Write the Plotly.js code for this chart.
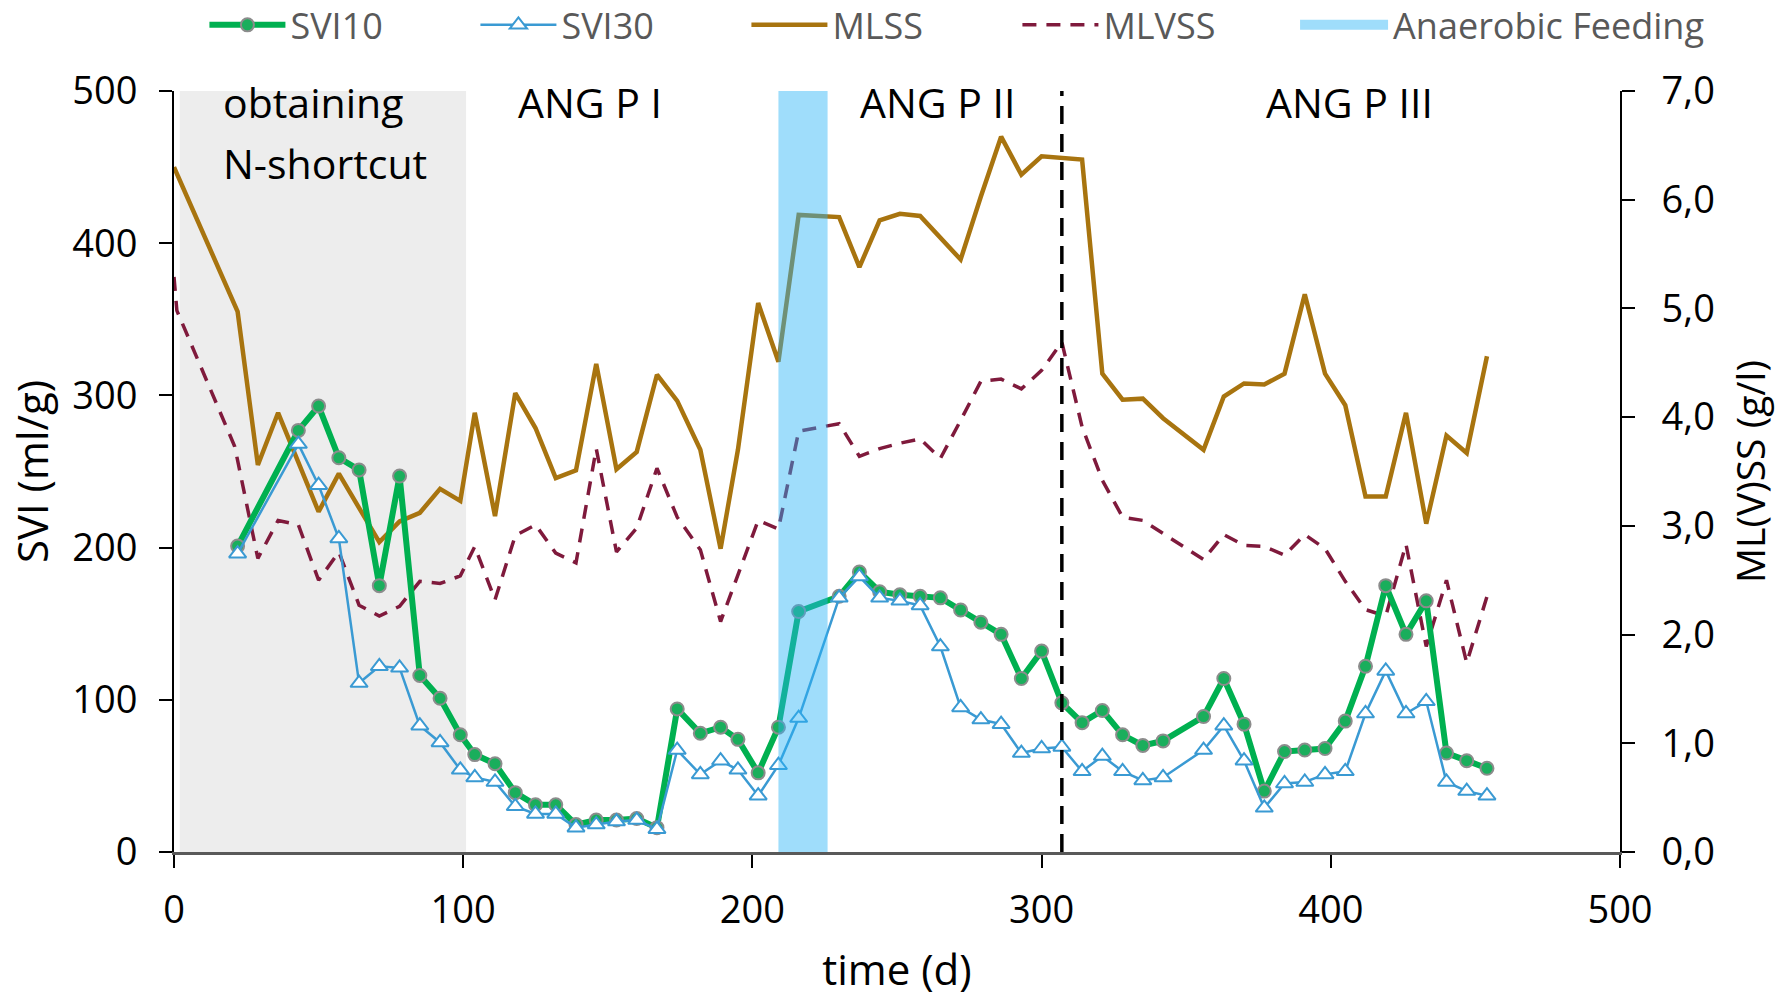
<!DOCTYPE html>
<html>
<head>
<meta charset="utf-8">
<script src="https://cdn.plot.ly/plotly-3.0.1.min.js"></script>
<style>html,body{margin:0;padding:0;background:#fff;}#chart{width:1790px;height:997px;}</style>
</head>
<body>
<div id="chart"></div>
<script>
// ---- data ----
var sviDays = [22,43,50,57,64,71,78,85,92,99,104,111,118,125,132,139,146,153,160,167,174,182,189,195,202,209,216,230,237,244,251,258,265,272,279,286,293,300,307,314,321,328,335,342,356,363,370,377,384,391,398,405,412,419,426,433,440,447,454];
var svi10 = [201,277,293,259,251,175,247,116,101,77,64,58,39,31,31,18,21,21,22,16,94,78,82,74,52,82,158,168,184,171,169,168,167,159,151,143,114,132,98,85,93,77,70,73,89,114,84,40,66,67,68,86,122,175,143,165,65,60,55];
var svi30 = [196,268,241,206,111,122,121,83,72,54,49,46,30,25,25,16,18,20,21,15,67,51,60,54,37,57,88,167,181,167,165,162,135,95,87,84,65,68,69,53,63,53,47,49,67,83,60,29,45,46,51,53,91,119,91,99,46,40,37];

var mlssDays = [0,22,29,36,50,57,71,78,85,92,99,104,111,118,125,132,139,146,153,160,167,174,182,189,195,202,209,216,230,237,244,251,258,272,279,286,293,300,314,321,328,335,342,356,363,370,377,384,391,398,405,412,419,426,433,440,447,454];
var mlss = [6.30,4.97,3.56,4.04,3.13,3.48,2.85,3.04,3.12,3.34,3.23,4.04,3.09,4.22,3.90,3.44,3.51,4.49,3.52,3.68,4.39,4.15,3.70,2.79,3.70,5.05,4.51,5.86,5.84,5.38,5.81,5.87,5.85,5.45,6.03,6.58,6.23,6.40,6.37,4.40,4.16,4.17,3.99,3.70,4.19,4.31,4.30,4.40,5.13,4.40,4.11,3.27,3.27,4.04,3.02,3.83,3.67,4.56];

var mlvssDays = [0,1,21,29,36,43,50,57,64,71,78,85,92,99,104,111,118,125,132,139,146,153,160,167,174,182,189,202,209,216,230,237,244,251,258,265,272,279,286,293,300,307,314,321,328,335,356,363,370,377,384,391,398,405,412,419,426,433,440,447,454];
var mlvss = [5.29,4.98,3.73,2.70,3.05,3.01,2.50,2.76,2.27,2.17,2.26,2.49,2.47,2.54,2.81,2.32,2.91,3.01,2.75,2.66,3.71,2.76,2.98,3.53,3.08,2.78,2.12,3.05,2.97,3.87,3.94,3.64,3.71,3.76,3.80,3.62,3.97,4.33,4.35,4.26,4.43,4.69,3.91,3.42,3.08,3.05,2.69,2.92,2.82,2.81,2.73,2.92,2.79,2.49,2.23,2.17,2.83,1.89,2.50,1.74,2.35];

var seriesNames = ["SVI10","SVI30","MLSS","MLVSS","Anaerobic Feeding"];
var shortcutPhase = [2, 101];      // grey band (days)
var feedingPhase = [209, 226];     // anaerobic feeding band (days)
var phaseSwitchDay = [307];        // dashed line
var phaseLabels = ["ANG P I","ANG P II","ANG P III"];
var phaseLabelDays = [144, 264, 406.5];
var xTicks = [0,100,200,300,400,500];

var FONT = "Open Sans, Noto Sans, sans-serif";

var traces = [
  {x: mlssDays, y: mlss, name: seriesNames[2], type: "scatter", mode: "lines", yaxis: "y",
   line: {color: "#A8740F", width: 4.5}, legendrank: 3},
  {x: mlvssDays, y: mlvss, name: seriesNames[3], type: "scatter", mode: "lines", yaxis: "y",
   line: {color: "#7F1A3C", width: 3.5, dash: "14px,10px"}, legendrank: 4},
  {x: sviDays, y: svi10, name: seriesNames[0], type: "scatter", mode: "lines+markers", yaxis: "y2",
   line: {color: "#00B050", width: 6},
   marker: {symbol: "circle", size: 13, color: "#1AAE5C", line: {color: "#8C8C8C", width: 2}}, legendrank: 1},
  {x: sviDays, y: svi30, name: seriesNames[1], type: "scatter", mode: "lines+markers", yaxis: "y2",
   line: {color: "#3A9AD3", width: 2.5},
   marker: {symbol: "triangle-up", size: 15, color: "#FFFFFF", line: {color: "#3A9AD3", width: 2}}, legendrank: 2},
  {x: [null], y: [null], name: seriesNames[4], type: "scatter", mode: "lines", yaxis: "y2", legend: "legend2",
   line: {color: "#9FDDFB", width: 16}, legendrank: 5}
];

var shapes = [
  {type: "rect", layer: "below", xref: "x", yref: "paper", x0: shortcutPhase[0], x1: shortcutPhase[1], y0: 0, y1: 1,
   fillcolor: "#EDEDED", line: {width: 0}},
  {type: "rect", layer: "above", xref: "x", yref: "paper", x0: feedingPhase[0], x1: feedingPhase[1], y0: 0, y1: 1,
   fillcolor: "rgb(42,180,247)", opacity: 0.45, line: {width: 0}},
  {type: "line", layer: "above", xref: "x", yref: "paper", x0: phaseSwitchDay[0], x1: phaseSwitchDay[0], y0: 0, y1: 1,
   line: {color: "#000000", width: 3.5, dash: "18px,10px"}}
];

var annotations = [
  {xref: "x", yref: "paper", x: 16.4, y: 0.986, xanchor: "left", yanchor: "middle", showarrow: false,
   text: "obtaining", font: {family: FONT, size: 41, color: "#000"}},
  {xref: "x", yref: "paper", x: 16.4, y: 0.906, xanchor: "left", yanchor: "middle", showarrow: false,
   text: "N-shortcut", font: {family: FONT, size: 41, color: "#000"}}
];
for (var i = 0; i < phaseLabels.length; i++) {
  annotations.push({xref: "x", yref: "paper", x: phaseLabelDays[i], y: 0.986, xanchor: "center", yanchor: "middle",
    showarrow: false, text: phaseLabels[i], font: {family: FONT, size: 41, color: "#000"}});
}

var legendFont = {family: FONT, size: 36, color: "#595959"};

var layout = {
  width: 1790, height: 997,
  margin: {l: 174, r: 170, t: 91, b: 145, pad: 0},
  paper_bgcolor: "#FFFFFF", plot_bgcolor: "rgba(0,0,0,0)",
  separators: ", ",
  font: {family: FONT, color: "#000"},
  showlegend: true,
  legend: {orientation: "h", xref: "container", yref: "container", x: 0.1142, xanchor: "left", y: 0.975, yanchor: "middle",
    font: legendFont, itemwidth: 76, entrywidth: 180, entrywidthmode: "pixels",
    bgcolor: "rgba(0,0,0,0)", traceorder: "normal"},
  legend2: {orientation: "h", xref: "container", yref: "container", x: 0.7235, xanchor: "left", y: 0.975, yanchor: "middle",
    font: legendFont, itemwidth: 88, bgcolor: "rgba(0,0,0,0)"},
  xaxis: {range: [0, 500], tickvals: xTicks, ticks: "outside", ticklen: 13, tickwidth: 2, tickcolor: "#000",
    showline: true, linecolor: "#595959", linewidth: 3, showgrid: false, zeroline: false,
    tickfont: {family: FONT, size: 38, color: "#000"}, ticklabelstandoff: 9,
    title: {text: "time (d)", font: {family: FONT, size: 42, color: "#000"}, standoff: 24}},
  yaxis: {range: [0, 7], dtick: 1, tickformat: ".1f", side: "right", ticks: "outside", ticklen: 13, tickwidth: 2,
    tickcolor: "#000", showline: true, linecolor: "#000", linewidth: 2, showgrid: false, zeroline: false,
    tickfont: {family: FONT, size: 38, color: "#000"}, ticklabelstandoff: 19,
    title: {text: "ML(V)SS (g/l)", font: {family: FONT, size: 39, color: "#000"}, standoff: 24}},
  yaxis2: {range: [0, 500], dtick: 100, overlaying: "y", side: "left", ticks: "outside", ticklen: 13, tickwidth: 2,
    tickcolor: "#000", showline: true, linecolor: "#000", linewidth: 2, showgrid: false, zeroline: false,
    tickfont: {family: FONT, size: 38, color: "#000"}, ticklabelstandoff: 14,
    title: {text: "SVI (ml/g)", font: {family: FONT, size: 42, color: "#000"}, standoff: 11}},
  shapes: shapes,
  annotations: annotations
};

Plotly.newPlot("chart", traces, layout, {staticPlot: true, displayModeBar: false});
</script>
</body>
</html>
